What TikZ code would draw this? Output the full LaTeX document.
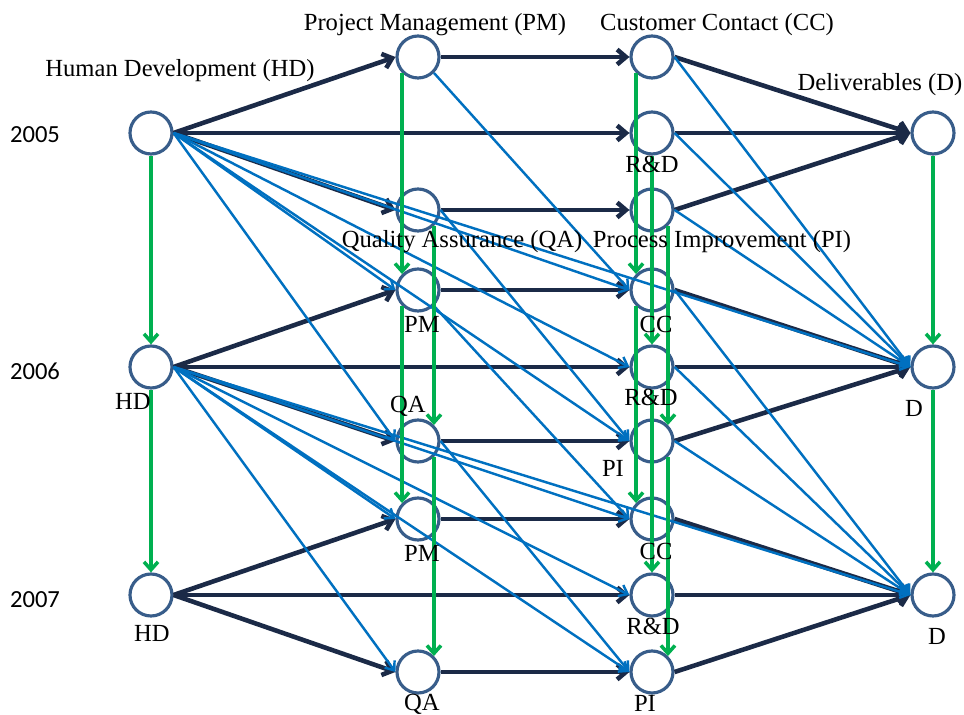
\documentclass[tikz,border=0pt]{standalone}
\usepackage{fontspec}
\setmainfont{Liberation Serif}
\newfontfamily\yearfont{Carlito}
\usetikzlibrary{arrows.meta}
\definecolor{darknavy}{HTML}{1B2A47}
\definecolor{linkblue}{HTML}{0070C0}
\definecolor{laggreen}{HTML}{00B050}
\definecolor{ringblue}{HTML}{385D8A}

\begin{document}
\begin{tikzpicture}[x=0.02cm, y=-0.02cm,
    var/.style={circle, draw=ringblue, line width=1.8pt, fill=white, minimum size=0.84cm, inner sep=0pt},
    dk/.style={draw=darknavy, line width=2.6pt, -{Straight Barb[length=5pt,width=8.5pt]}},
    bl/.style={draw=linkblue, line width=1.4pt, -{Straight Barb[length=4.5pt,width=7pt]}},
    gr/.style={draw=laggreen, line width=2pt, -{Straight Barb[length=4.5pt,width=8pt]}},
    lab/.style={anchor=base, inner sep=0pt, font=\fontsize{14}{16}\selectfont},
    yr/.style={anchor=base, inner sep=0pt, font=\yearfont\fontsize{14}{16}\selectfont}]
  \useasboundingbox (0,0) rectangle (964,715);

  % 2005
  \node[var] (hdA) at (151,133) {};
  \node[var] (pmA) at (418,57)  {};
  \node[var] (qaA) at (418,210) {};
  \node[var] (ccA) at (652,57)  {};
  \node[var] (rdA) at (652,133) {};
  \node[var] (piA) at (652,210) {};
  \node[var] (dA)  at (933,133) {};
  % 2006
  \node[var] (hdB) at (151,367) {};
  \node[var] (pmB) at (418,290) {};
  \node[var] (qaB) at (418,441) {};
  \node[var] (ccB) at (652,290) {};
  \node[var] (rdB) at (652,367) {};
  \node[var] (piB) at (652,441) {};
  \node[var] (dB)  at (933,367) {};
  % 2007
  \node[var] (hdC) at (151,595) {};
  \node[var] (pmC) at (418,519) {};
  \node[var] (qaC) at (418,672) {};
  \node[var] (ccC) at (652,519) {};
  \node[var] (rdC) at (652,595) {};
  \node[var] (piC) at (652,672) {};
  \node[var] (dC)  at (933,595) {};

  % links inside a year
  \draw[dk] (hdA.east) -- (pmA.west);
  \draw[dk] (hdA.east) -- (rdA.west);
  \draw[dk] (hdA.east) -- (qaA.west);
  \draw[dk] (pmA.east) -- (ccA.west);
  \draw[dk] (qaA.east) -- (piA.west);
  \draw[dk] (ccA.east) -- (dA.west);
  \draw[dk] (rdA.east) -- (dA.west);
  \draw[dk] (piA.east) -- (dA.west);
  \draw[dk] (hdB.east) -- (pmB.west);
  \draw[dk] (hdB.east) -- (rdB.west);
  \draw[dk] (hdB.east) -- (qaB.west);
  \draw[dk] (pmB.east) -- (ccB.west);
  \draw[dk] (qaB.east) -- (piB.west);
  \draw[dk] (ccB.east) -- (dB.west);
  \draw[dk] (rdB.east) -- (dB.west);
  \draw[dk] (piB.east) -- (dB.west);
  \draw[dk] (hdC.east) -- (pmC.west);
  \draw[dk] (hdC.east) -- (rdC.west);
  \draw[dk] (hdC.east) -- (qaC.west);
  \draw[dk] (pmC.east) -- (ccC.west);
  \draw[dk] (qaC.east) -- (piC.west);
  \draw[dk] (ccC.east) -- (dC.west);
  \draw[dk] (rdC.east) -- (dC.west);
  \draw[dk] (piC.east) -- (dC.west);

  % links into the next year
  \draw[bl] (hdA.east) -- (pmB.west);
  \draw[bl] (hdA.east) -- (qaB.west);
  \draw[bl] (hdA.east) -- (ccB.west);
  \draw[bl] (hdA.east) -- (rdB.west);
  \draw[bl] (hdA.east) -- (piB.west);
  \draw[bl] (hdA.east) -- (dB.west);
  \draw[bl] (pmA.south east) -- (ccB.west);
  \draw[bl] (qaA.east) -- (piB.west);
  \draw[bl] (ccA.east) -- (dB.west);
  \draw[bl] (rdA.east) -- (dB.west);
  \draw[bl] (piA.east) -- (dB.west);
  \draw[bl] (hdB.east) -- (pmC.west);
  \draw[bl] (hdB.east) -- (qaC.west);
  \draw[bl] (hdB.east) -- (ccC.west);
  \draw[bl] (hdB.east) -- (rdC.west);
  \draw[bl] (hdB.east) -- (piC.west);
  \draw[bl] (hdB.east) -- (dC.west);
  \draw[bl] (pmB.south east) -- (ccC.west);
  \draw[bl] (qaB.east) -- (piC.west);
  \draw[bl] (ccB.east) -- (dC.west);
  \draw[bl] (rdB.east) -- (dC.west);
  \draw[bl] (piB.east) -- (dC.west);

  % same variable, next year
  \draw[gr] (hdA.south) -- (hdB.north);
  \draw[gr] (pmA.south west) -- (pmB.north west);
  \draw[gr] (qaA.south east) -- (qaB.north east);
  \draw[gr] (ccA.south west) -- (ccB.north west);
  \draw[gr] (rdA.south) -- (rdB.north);
  \draw[gr] (piA.south east) -- (piB.north east);
  \draw[gr] (dA.south) -- (dB.north);
  \draw[gr] (hdB.south) -- (hdC.north);
  \draw[gr] (pmB.south west) -- (pmC.north west);
  \draw[gr] (qaB.south east) -- (qaC.north east);
  \draw[gr] (ccB.south west) -- (ccC.north west);
  \draw[gr] (rdB.south) -- (rdC.north);
  \draw[gr] (piB.south east) -- (piC.north east);
  \draw[gr] (dB.south) -- (dC.north);

  % names
  \node[lab] (capHD) at (180,77)  {Human Development (HD)};
  \node[lab] (capPM) at (435,31)  {Project Management (PM)};
  \node[lab] (capCC) at (717,31)  {Customer Contact (CC)};
  \node[lab] (capD)  at (880,91)  {Deliverables (D)};
  \node[lab] (capRD) at (652,173) {R\&D};
  \node[lab] (capQA) at (462,248) {Quality Assurance (QA)};
  \node[lab] (capPI) at (722,248) {Process Improvement (PI)};
  \node[lab] (tPMb)  at (422,333) {PM};
  \node[lab] (tCCb)  at (656,333) {CC};
  \node[lab] (tHDb)  at (133,410) {HD};
  \node[lab] (tRDb)  at (651,406) {R\&D};
  \node[lab] (tQAb)  at (408,413) {QA};
  \node[lab] (tPIb)  at (613,477) {PI};
  \node[lab] (tDb)   at (914,417) {D};
  \node[lab] (tPMc)  at (422,562) {PM};
  \node[lab] (tCCc)  at (656,560) {CC};
  \node[lab] (tHDc)  at (152,642) {HD};
  \node[lab] (tRDc)  at (653,635) {R\&D};
  \node[lab] (tDc)   at (937,645) {D};
  \node[lab] (tQAc)  at (422,711) {QA};
  \node[lab] (tPIc)  at (645,712) {PI};

  % years
  \node[yr] (y05) at (35,143) {2005};
  \node[yr] (y06) at (35,380) {2006};
  \node[yr] (y07) at (35,608) {2007};
\end{tikzpicture}
\end{document}
